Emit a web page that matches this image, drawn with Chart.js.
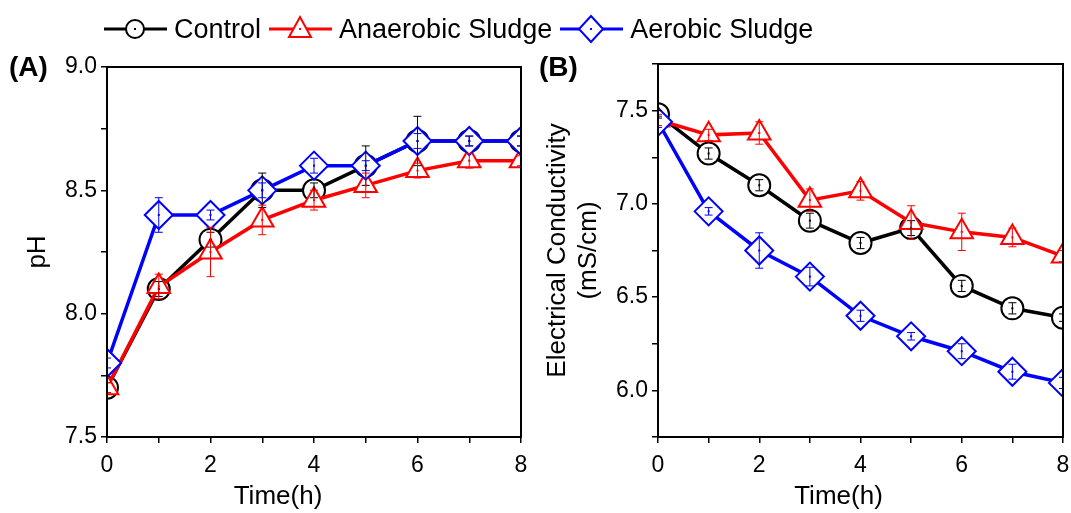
<!DOCTYPE html>
<html>
<head>
<meta charset="utf-8">
<script src="https://cdn.jsdelivr.net/npm/chart.js@4.4.0/dist/chart.umd.min.js"></script>
<style>
    body { margin: 0; background: #fff; font-family: "Liberation Sans", Arial, sans-serif; }
    #wrap { position: relative; width: 1071px; height: 513px; overflow: hidden; }
    #chartA { position: absolute; left: 0; top: 0; }
    #chartB { position: absolute; left: 535px; top: 0; }
    .panel { position: absolute; top: 51px; font-size: 28px; font-weight: bold; }
    #legend { position: absolute; left: 104px; top: 12px; display: flex; align-items: center; font-size: 27px; line-height: 34px; }
    #legend span { margin-left: 7px; margin-right: 8px; }
</style>
</head>
<body>
<div id="wrap">
    <canvas id="chartA" width="537" height="513"></canvas>
    <canvas id="chartB" width="544" height="513"></canvas>
    <div class="panel" style="left:9px">(A)</div>
    <div class="panel" style="left:539px">(B)</div>
    <div id="legend"></div>
</div>
<script>
    // time points (h)
    const hours = [0, 1, 2, 3, 4, 5, 6, 7, 8];

    const seriesNames = ["Control", "Anaerobic Sludge", "Aerobic Sludge"];

    // (A) pH
    const phControl   = [7.70, 8.10, 8.30, 8.50, 8.50, 8.60, 8.70, 8.70, 8.70];
    const phAnaerobic = [7.70, 8.11, 8.25, 8.38, 8.46, 8.52, 8.58, 8.62, 8.62];
    const phAerobic   = [7.80, 8.40, 8.40, 8.50, 8.60, 8.60, 8.70, 8.70, 8.70];
    const phControlErr   = [0.02, 0.03, 0.03, 0.07, 0.03, 0.08, 0.10, 0.02, 0.02];
    const phAnaerobicErr = [0.02, 0.05, 0.10, 0.06, 0.04, 0.05, 0.03, 0.03, 0.02];
    const phAerobicErr   = [0.02, 0.07, 0.02, 0.03, 0.03, 0.02, 0.03, 0.02, 0.02];

    // (B) electrical conductivity, mS/cm
    const ecControl   = [7.48, 7.27, 7.10, 6.91, 6.79, 6.87, 6.56, 6.44, 6.39];
    const ecAnaerobic = [7.45, 7.37, 7.38, 7.02, 7.07, 6.90, 6.85, 6.82, 6.72];
    const ecAerobic   = [7.44, 6.96, 6.75, 6.61, 6.40, 6.29, 6.21, 6.10, 6.04];
    const ecControlErr   = [0.02, 0.03, 0.03, 0.04, 0.03, 0.04, 0.03, 0.03, 0.02];
    const ecAnaerobicErr = [0.03, 0.03, 0.06, 0.06, 0.05, 0.09, 0.10, 0.05, 0.03];
    const ecAerobicErr   = [0.03, 0.02, 0.095, 0.05, 0.03, 0.02, 0.04, 0.04, 0.03];

    // axis tick labels
    const xTickLabels = [0, 2, 4, 6, 8];
    const phTickLabels = [7.5, 8.0, 8.5, 9.0];
    const ecTickLabels = [6.0, 6.5, 7.0, 7.5];

    const colors = ["#000000", "#ff0000", "#0000ff"];
    const shapes = ["circle", "triangle", "rectRot"];
    const radii = [11, 13, 14];

    Chart.defaults.font.family = '"Liberation Sans", Arial, sans-serif';
    Chart.defaults.color = "#000";

    // error bars + the little dot in the middle of each marker
    const errorBarPlugin = {
        id: "errorBars",
        afterDatasetsDraw(chart) {
            const ctx = chart.ctx;
            const xs = chart.scales.x, ys = chart.scales.y;
            const area = chart.chartArea;
            ctx.save();
            ctx.beginPath();
            ctx.rect(area.left, area.top, area.right - area.left, area.bottom - area.top);
            ctx.clip();
            [0, 1, 2].forEach(function(i) {
                const ds = chart.data.datasets[i];
                ctx.strokeStyle = ds.borderColor;
                ctx.fillStyle = ds.borderColor;
                ctx.lineWidth = 1;
                ds.data.forEach(function(pt, j) {
                    const px = xs.getPixelForValue(pt.x);
                    const py = ys.getPixelForValue(pt.y);
                    const e = ds.errors[j];
                    const top = ys.getPixelForValue(pt.y + e);
                    const bot = ys.getPixelForValue(pt.y - e);
                    ctx.beginPath();
                    ctx.moveTo(px, top); ctx.lineTo(px, bot);
                    ctx.moveTo(px - 4, top); ctx.lineTo(px + 4, top);
                    ctx.moveTo(px - 4, bot); ctx.lineTo(px + 4, bot);
                    ctx.stroke();
                    ctx.fillRect(px - 1, py - 1, 2, 2);
                });
            });
            ctx.restore();
        }
    };

    // closed box around the plot + x title (it sits a bit left of centre in the original)
    const boxPlugin = {
        id: "box",
        afterDraw(chart, args, opts) {
            const a = chart.chartArea;
            const ctx = chart.ctx;
            ctx.save();
            ctx.strokeStyle = "#000";
            ctx.lineWidth = 2;
            ctx.strokeRect(a.left, a.top, a.right - a.left, a.bottom - a.top);
            ctx.fillStyle = "#000";
            ctx.font = '26px "Liberation Sans", Arial, sans-serif';
            ctx.textAlign = "center";
            ctx.textBaseline = "middle";
            ctx.fillText(opts.xTitle, (a.left + a.right) / 2 + opts.xShift, 497);
            ctx.restore();
        }
    };

    function makeDatasets(values, errs) {
        return values.map(function(vals, i) {
            return {
                label: seriesNames[i],
                data: hours.map((h, j) => ({ x: h, y: vals[j] })),
                errors: errs[i],
                borderColor: colors[i],
                backgroundColor: "#ffffff",
                borderWidth: 3.5,
                pointStyle: shapes[i],
                pointRadius: radii[i],
                pointBorderWidth: 2,
                pointBackgroundColor: "#ffffff",
                pointBorderColor: colors[i],
                order: 2 - i,
                clip: 0
            };
        });
    }

    function labelOnly(list, digits) {
        return function(v) {
            for (let k = 0; k < list.length; k++) {
                if (Math.abs(list[k] - v) < 1e-6) return list[k].toFixed(digits);
            }
            return "";
        };
    }

    function makeOptions(yMin, yMax, yLabels, yTitle, titlePad, leftW, padTop, xShift) {
        return {
            responsive: false,
            animation: false,
            layout: { padding: { top: padTop, right: 0, left: 0, bottom: 0 } },
            plugins: {
                legend: { display: false },
                tooltip: { enabled: false },
                box: { xTitle: "Time(h)", xShift: xShift }
            },
            scales: {
                x: {
                    type: "linear",
                    min: 0, max: 8,
                    ticks: { stepSize: 1, autoSkip: false, maxRotation: 0, font: { size: 23 }, padding: 9, callback: labelOnly(xTickLabels, 0) },
                    grid: { drawOnChartArea: false, tickLength: 6, color: "#000", lineWidth: 1.5 },
                    border: { color: "#000", width: 2 },
                    afterFit: function(scale) { scale.height = 76; }
                },
                y: {
                    min: yMin, max: yMax,
                    ticks: { stepSize: 0.25, autoSkip: false, font: { size: 23 }, padding: 4, callback: labelOnly(yLabels, 1) },
                    grid: { drawOnChartArea: false, tickLength: 6, color: "#000", lineWidth: 1.5 },
                    border: { color: "#000", width: 2 },
                    title: { display: true, text: yTitle, font: { size: 26 }, padding: { top: titlePad, bottom: 0 } },
                    afterFit: function(scale) { scale.width = leftW; }
                }
            }
        };
    }

    new Chart(document.getElementById("chartA"), {
        type: "line",
        data: { datasets: makeDatasets([phControl, phAnaerobic, phAerobic], [phControlErr, phAnaerobicErr, phAerobicErr]) },
        options: makeOptions(7.5, 9.0, phTickLabels, "pH", 22, 107, 67, -36),
        plugins: [errorBarPlugin, boxPlugin]
    });

    new Chart(document.getElementById("chartB"), {
        type: "line",
        data: { datasets: makeDatasets([ecControl, ecAnaerobic, ecAerobic], [ecControlErr, ecAnaerobicErr, ecAerobicErr]) },
        options: makeOptions(5.75, 7.75, ecTickLabels, ["Electrical Conductivity", "(mS/cm)"], 7, 123, 64, -22),
        plugins: [errorBarPlugin, boxPlugin]
    });

    // legend: line + hollow marker, like the plot
    const legend = document.getElementById("legend");
    seriesNames.forEach(function(name, i) {
        const c = colors[i];
        let mark = "";
        if (shapes[i] === "circle") mark = '<circle cx="31" cy="17" r="9" fill="#fff" stroke="' + c + '" stroke-width="2"/>';
        if (shapes[i] === "triangle") mark = '<polygon points="31,5 42,25 20,25" fill="#fff" stroke="' + c + '" stroke-width="2"/>';
        if (shapes[i] === "rectRot") mark = '<polygon points="31,4 43,17 31,30 19,17" fill="#fff" stroke="' + c + '" stroke-width="2"/>';
        const svg = '<svg width="63" height="34"><line x1="0" y1="17" x2="63" y2="17" stroke="' + c + '" stroke-width="3"/>' +
            mark + '<rect x="30" y="16" width="2" height="2" fill="' + c + '"/></svg>';
        legend.insertAdjacentHTML("beforeend", svg + "<span>" + name + "</span>");
    });
</script>
</body>
</html>
